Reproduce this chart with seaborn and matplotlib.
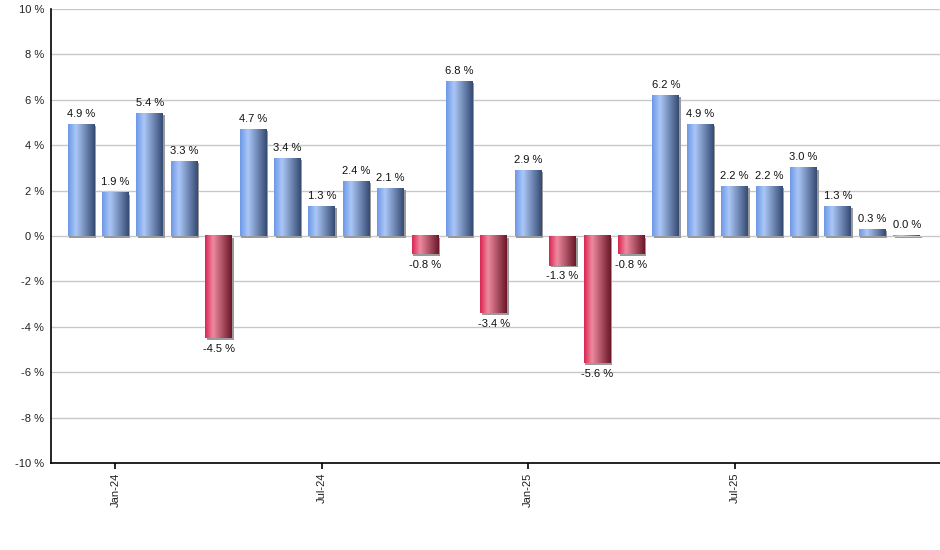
import numpy as np
import pandas as pd
import matplotlib
matplotlib.use('Agg')
import matplotlib.pyplot as plt
import matplotlib.transforms as mtransforms
from matplotlib.patches import Rectangle
from matplotlib.colors import LinearSegmentedColormap
import seaborn as sns

# monthly returns, Dec-23 .. Dec-25
months = ['Dec-23', 'Jan-24', 'Feb-24', 'Mar-24', 'Apr-24', 'May-24', 'Jun-24',
          'Jul-24', 'Aug-24', 'Sep-24', 'Oct-24', 'Nov-24', 'Dec-24',
          'Jan-25', 'Feb-25', 'Mar-25', 'Apr-25', 'May-25', 'Jun-25',
          'Jul-25', 'Aug-25', 'Sep-25', 'Oct-25', 'Nov-25', 'Dec-25']
returns = [4.9, 1.9, 5.4, 3.3, -4.5, 4.7, 3.4, 1.3, 2.4, 2.1, -0.8, 6.8, -3.4,
           2.9, -1.3, -5.6, -0.8, 6.2, 4.9, 2.2, 2.2, 3.0, 1.3, 0.3, 0.04]
tick_months = ['Jan-24', 'Jul-24', 'Jan-25', 'Jul-25']
yticks = list(range(-10, 11, 2))

df = pd.DataFrame({'month': months, 'ret': returns})

sns.set_style('white')
plt.rcParams['font.family'] = ['Liberation Sans', 'DejaVu Sans']

fig = plt.figure(figsize=(9.4, 5.5), dpi=100)
ax = fig.add_axes([51 / 940, 87 / 550, 889 / 940, 454 / 550])

sns.barplot(data=df, x='month', y='ret', color='#7fa6ee', width=0.78,
            errorbar=None, ax=ax, zorder=3)

blue = LinearSegmentedColormap.from_list(
    'blu', [(0, '#6c98e6'), (0.3, '#abc7f7'), (1, '#344a72')])
red = LinearSegmentedColormap.from_list(
    'rd', [(0, '#da2450'), (0.3, '#ee8aa0'), (1, '#6a1628')])
grad = np.linspace(0, 1, 256).reshape(1, -1)

shadow_tr = ax.transData + mtransforms.ScaledTranslation(1.2 / 72, -1.2 / 72, fig.dpi_scale_trans)

for p in list(ax.patches):
    x0, y0 = p.get_x(), p.get_y()
    w, h = p.get_width(), p.get_height()
    cmap = blue if h >= 0 else red
    sh = Rectangle((x0, y0), w, h, transform=shadow_tr, facecolor='#9a9a9a',
                   edgecolor='none', zorder=2)
    ax.add_patch(sh)
    ax.imshow(grad, cmap=cmap, aspect='auto', interpolation='bilinear',
              extent=(x0, x0 + w, y0, y0 + h), zorder=3)
    p.set_facecolor('none')
    p.set_edgecolor('none')

for c in ax.containers:
    labels = [f'{v:.1f} %' for v in c.datavalues]
    ax.bar_label(c, labels=labels, padding=4, fontsize=8, color='#111111')

ax.set_xlim(-0.87, 24.97)
ax.set_ylim(-10, 10)
ax.set_yticks(yticks)
ax.set_yticklabels([f'{t} %' for t in yticks])
ax.set_xticks([months.index(m) for m in tick_months])
ax.set_xticklabels(tick_months, rotation=90)
ax.set_xlabel('')
ax.set_ylabel('')

ax.yaxis.grid(True, color='#c8c8c8', linewidth=1, zorder=0)
ax.xaxis.grid(False)
ax.set_axisbelow(True)
for s in ['top', 'right']:
    ax.spines[s].set_visible(False)
for s in ['left', 'bottom']:
    ax.spines[s].set_color('black')
    ax.spines[s].set_linewidth(1.2)
    ax.spines[s].set_zorder(5)

ax.tick_params(axis='y', length=0, pad=5, labelsize=8, labelcolor='#222222')
ax.tick_params(axis='x', length=4, width=1.2, color='black', direction='out',
               bottom=True, pad=3, labelsize=8, labelcolor='#222222')

fig.savefig('out.png', dpi=100)
